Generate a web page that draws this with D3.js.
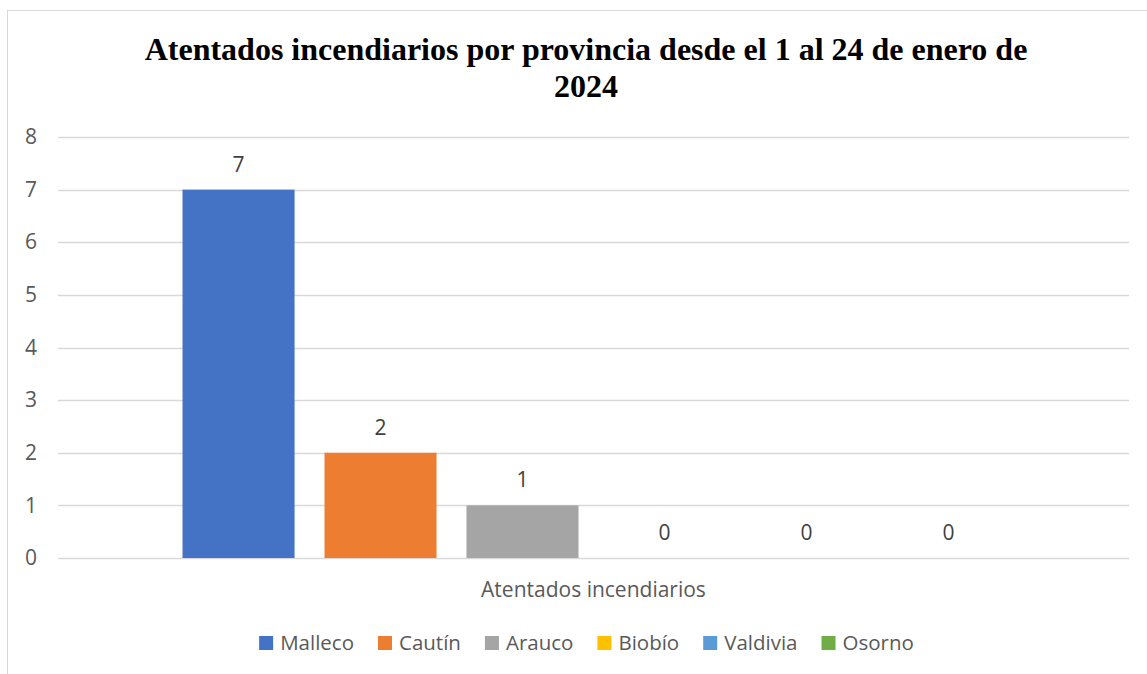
<!DOCTYPE html>
<html>
<head>
<meta charset="utf-8">
<script src="https://cdn.jsdelivr.net/npm/d3@7"></script>
<style>
  html, body { margin: 0; padding: 0; background: #fff; }
  svg { display: block; }
</style>
</head>
<body>
<svg id="chart" width="1147" height="674"></svg>
<script>
// ---- Data ----
const categories = ["Atentados incendiarios"];
const seriesNames = ["Malleco", "Cautín", "Arauco", "Biobío", "Valdivia", "Osorno"];
const seriesValues = [7, 2, 1, 0, 0, 0];
const seriesColors = ["#4472C4", "#ED7D31", "#A5A5A5", "#FFC000", "#5B9BD5", "#70AD47"];
const yTicks = [0, 1, 2, 3, 4, 5, 6, 7, 8];
const titleLines = ["Atentados incendiarios por provincia desde el 1 al 24 de enero de", "2024"];

// ---- Layout ----
const W = 1147, H = 674;
const plot = { left: 58, right: 1129, top: 137, bottom: 558 };
const textColor = "#595959";
const gridColor = "#D9D9D9";
const sans = "'Open Sans', 'Noto Sans', sans-serif";

const svg = d3.select("#chart");

// Chart border
svg.append("rect")
  .attr("x", 7.5).attr("y", 10.5)
  .attr("width", 1150).attr("height", 690)
  .attr("fill", "#fff")
  .attr("stroke", gridColor).attr("stroke-width", 1);

// Title
const title = svg.append("text")
  .attr("text-anchor", "middle")
  .attr("font-family", "'Liberation Serif', 'Times New Roman', serif")
  .attr("font-weight", "bold")
  .attr("font-size", 32)
  .attr("fill", "#000");
titleLines.forEach((l, i) => {
  title.append("tspan").attr("x", 586).attr("y", 60 + i * 37).text(l);
});

// Scales
const y = d3.scaleLinear().domain([0, 8]).range([plot.bottom, plot.top]);
const x0 = d3.scaleBand().domain(categories)
  .range([plot.left, plot.right]).paddingInner(0).paddingOuter(0.1515);
const x1 = d3.scaleBand().domain(seriesNames)
  .range([0, x0.bandwidth()]).paddingInner(0.211).paddingOuter(0);

// Gridlines
svg.append("g").selectAll("line").data(yTicks).join("line")
  .attr("x1", plot.left).attr("x2", plot.right)
  .attr("y1", d => Math.round(y(d)) + 0.5).attr("y2", d => Math.round(y(d)) + 0.5)
  .attr("stroke", gridColor).attr("stroke-width", 1.3);

// Y axis labels
const yAxis = d3.axisLeft(y).tickValues(yTicks).tickSize(0).tickPadding(0);
const yg = svg.append("g").attr("transform", `translate(37,0)`).call(yAxis);
yg.select(".domain").remove();
yg.selectAll("text")
  .attr("font-family", sans).attr("font-size", 21).attr("fill", textColor);

// Bars
const data = seriesNames.map((s, i) => ({ cat: categories[0], name: s, value: seriesValues[i], color: seriesColors[i] }));
const g = svg.append("g");
g.selectAll("rect").data(data).join("rect")
  .attr("x", d => x0(d.cat) + x1(d.name))
  .attr("y", d => y(d.value))
  .attr("width", x1.bandwidth())
  .attr("height", d => y(0) - y(d.value))
  .attr("fill", d => d.color);

// Value labels
g.selectAll("text").data(data).join("text")
  .attr("x", d => x0(d.cat) + x1(d.name) + x1.bandwidth() / 2)
  .attr("y", d => y(d.value) - 18)
  .attr("text-anchor", "middle")
  .attr("font-family", sans).attr("font-size", 21).attr("fill", "#404040")
  .text(d => d.value);

// Category axis label
svg.append("g").selectAll("text").data(categories).join("text")
  .attr("x", d => x0(d) + x0.bandwidth() / 2)
  .attr("y", 597)
  .attr("text-anchor", "middle")
  .attr("font-family", sans).attr("font-size", 21).attr("fill", textColor)
  .text(d => d);

// Legend
const legend = svg.append("g");
const items = legend.selectAll("g").data(data).join("g");
items.append("rect").attr("width", 14).attr("height", 14).attr("y", 636).attr("fill", d => d.color);
items.append("text").attr("y", 650)
  .attr("font-family", sans).attr("font-size", 20.5).attr("fill", textColor)
  .text(d => d.name);
let xpos = 0;
const positions = [];
items.each(function () {
  const tw = d3.select(this).select("text").node().getComputedTextLength();
  positions.push(xpos);
  xpos += 14 + 7 + tw + 24;
});
const total = xpos - 24;
const startX = 586.5 - total / 2;
items.each(function (d, i) {
  const gx = startX + positions[i];
  d3.select(this).select("rect").attr("x", gx);
  d3.select(this).select("text").attr("x", gx + 21);
});
</script>
</body>
</html>
